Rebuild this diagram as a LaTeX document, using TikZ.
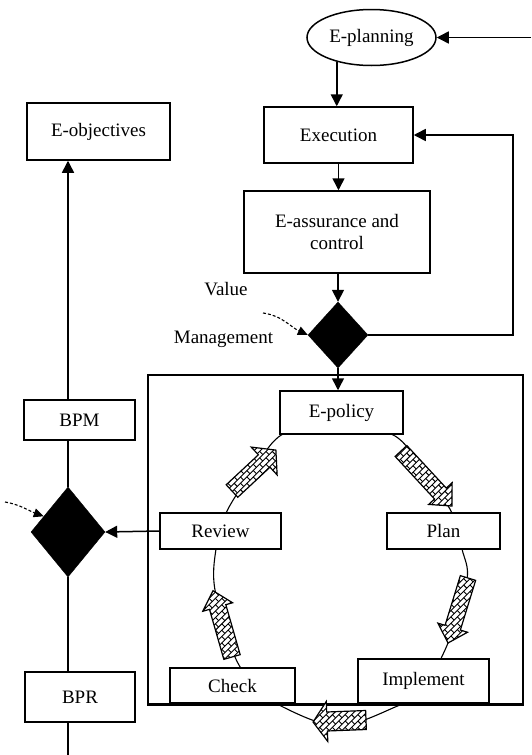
\documentclass[tikz,border=0pt]{standalone}
\usepackage{fontspec}
\setmainfont{Liberation Serif}
\usetikzlibrary{arrows.meta,shapes.geometric,calc}

\tikzset{
  txt/.style={font=\fontsize{19}{22}\selectfont},
  box/.style={draw, line width=1.5pt, fill=white, inner sep=0pt, txt, align=center},
  oval/.style={box, ellipse},
  decision/.style={diamond, draw=black, fill=black, inner sep=0pt},
  frame/.style={draw, line width=1.5pt, inner sep=0pt},
  flow/.style={line width=1.5pt, -{Triangle[length=12pt,width=12pt]}},
  plain/.style={line width=1.5pt},
  hint/.style={line width=1.1pt, dash pattern=on 3pt off 2pt, -{Triangle[length=10pt,width=9pt]}},
  ring/.style={line width=1.1pt},
  brickline/.style={line width=0.9pt},
  blockarrow/.style={line width=1.2pt, line join=miter},
}

% Block arrow filled with bricks laid on a 45 degree slant:
% #1 tail point, #2 direction (deg), #3 total length,
% #4 half shaft width, #5 half head width, #6 head length
\newcommand{\brickarrow}[6]{%
  \begin{scope}[shift={#1}, rotate=#2]
    \begin{scope}
      \clip (0,-#4) -- ({#3-#6},-#4) -- ({#3-#6},-#5) -- (#3,0)
            -- ({#3-#6},#5) -- ({#3-#6},#4) -- (0,#4) -- cycle;
      \fill[white] (-2,{-#5-2}) rectangle ({#3+2},{#5+2});
      \begin{scope}[shift={({#3/2},0)}, rotate={45-(#2)}]
        \foreach \rr in {0,...,22} {
          \pgfmathsetmacro{\yy}{-50+\rr*4.5}
          \pgfmathsetmacro{\off}{mod(\rr,2)*4.5}
          \draw[brickline] (-50,\yy) -- (50,\yy);
          \foreach \cc in {0,...,11}
            \draw[brickline] ({-50+\off+\cc*9},\yy) -- ({-50+\off+\cc*9},{\yy+4.5});
        }
      \end{scope}
    \end{scope}
    \draw[blockarrow] (0,-#4) -- ({#3-#6},-#4) -- ({#3-#6},-#5) -- (#3,0)
            -- ({#3-#6},#5) -- ({#3-#6},#4) -- (0,#4) -- cycle;
  \end{scope}}

\begin{document}
\begin{tikzpicture}[x=1pt, y=-1pt]
\useasboundingbox (0,0) rectangle (531,755);

% the improvement cycle, drawn first so the boxes sit on it
\draw[ring] plot[smooth cycle, tension=0.55] coordinates {
  (338,426) (395,436) (428,478) (452,513) (462,549) (467,580) (448,643)
  (420,695) (400,705) (338,726) (277,704) (255,685) (235,657) (215,590)
  (216,549) (226,513) (252,472) (283,434)};

% upper chain
\node[oval, minimum width=129pt, minimum height=56pt] (eplan) at (371.5,37.5) {E-planning};
\node[box, minimum width=149pt, minimum height=56pt] (exec) at (338.5,135) {Execution};
\node[box, minimum width=186pt, minimum height=82pt] (eassur) at (337,232) {E-assurance and\\control};
\node[decision, minimum width=60pt, minimum height=66pt] (dmgmt) at (338,335) {};
\node[txt] (lval) at (226,289) {Value};
\node[txt] (lmgmt) at (223.5,339) {Management};

% left column
\node[box, minimum width=143pt, minimum height=57pt] (eobj) at (98.5,131.5) {E-objectives};
\node[box, minimum width=111pt, minimum height=40pt] (bpm) at (79.5,420) {BPM};
\node[decision, minimum width=74pt, minimum height=90pt] (dleft) at (68,532) {};
\node[box, minimum width=110pt, minimum height=50pt] (bpr) at (80,697) {BPR};

% cycle frame and its steps
\node[frame, minimum width=375pt, minimum height=329pt] (frame) at (335.5,539.5) {};
\node[box, minimum width=123pt, minimum height=43pt] (epolicy) at (341.5,412.5) {E-policy};
\node[box, minimum width=121pt, minimum height=36pt] (review) at (220.5,531) {Review};
\node[box, minimum width=113pt, minimum height=36pt] (plan) at (443.5,531) {Plan};
\node[box, minimum width=131pt, minimum height=44pt] (implement) at (423.5,681) {Implement};
\node[box, minimum width=125pt, minimum height=35pt] (check) at (232.5,685.5) {Check};
\draw[line width=1.5pt] (frame.south west) -- (frame.south east);

% free ends
\coordinate (inR) at (531,37.5);
\coordinate (loopR) at (513,335);
\coordinate (outB) at (68,755);
\coordinate (vmTail) at (263,313);
\coordinate (lfTail) at (5,502);

% connectors
\draw[flow] (inR) -- (eplan.east);
\draw[flow] (eplan.215) -- (eplan.215 |- exec.north);
\draw[flow] (exec.south) -- (exec.south |- eassur.north);
\draw[flow] (dmgmt.north |- eassur.south) -- (dmgmt.north);
\draw[flow] (dmgmt.east) -- (loopR) |- (exec.east);
\draw[flow] (dmgmt.south) -- (dmgmt.south |- epolicy.north);
\draw[hint] (vmTail) to[out=-8, in=155] (dmgmt.west);

\draw[flow] (bpm.north -| dleft.north) -- (eobj.south -| dleft.north);
\draw[plain] (bpm.south -| dleft.north) -- (dleft.north);
\draw[flow] (review.west) -- (dleft.east);
\draw[plain] (dleft.south) -- (bpr.north -| dleft.south);
\draw[plain] (bpr.south -| dleft.south) -- (outB);
\draw[hint] (lfTail) to[out=-10, in=160] (dleft.147);

% brick arrows along the cycle
\coordinate (ba1) at (232,491);
\coordinate (ba2) at (401,451);
\coordinate (ba3) at (468,578);
\coordinate (ba4) at (366,720);
\coordinate (ba5) at (232,657);
\brickarrow{(ba1)}{43}{60}{8.5}{19}{16}
\brickarrow{(ba2)}{-47.2}{75}{8}{16}{17}
\brickarrow{(ba3)}{-107.1}{68}{8}{15.5}{16}
\brickarrow{(ba4)}{-177.8}{53}{9.5}{20}{14}
\brickarrow{(ba5)}{106}{69}{8.5}{15.5}{17}
\end{tikzpicture}
\end{document}
